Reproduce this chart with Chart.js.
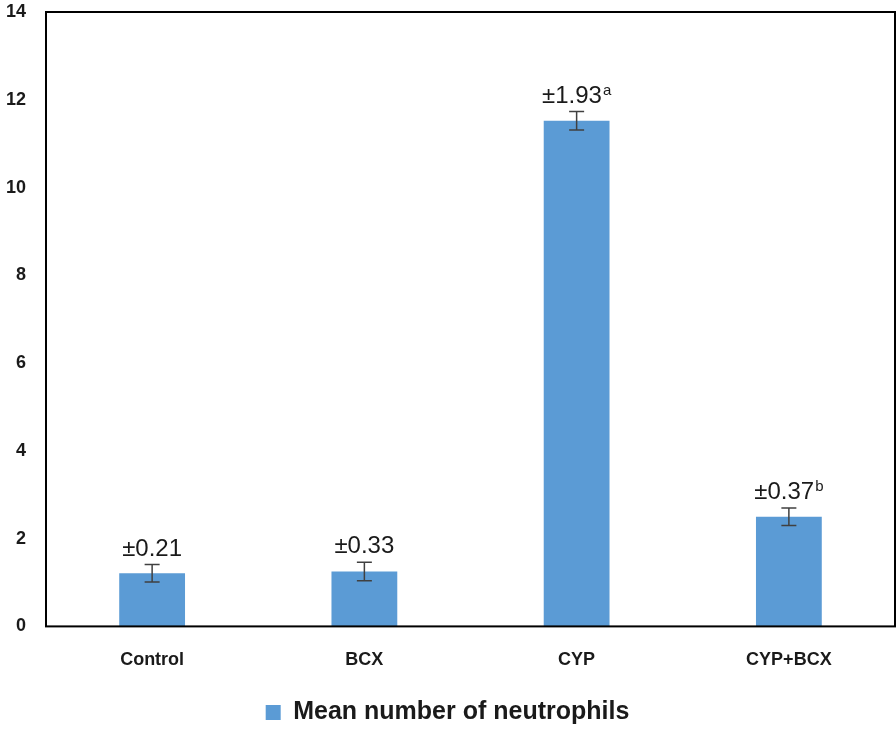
<!DOCTYPE html>
<html>
<head>
<meta charset="utf-8">
<script src="https://cdn.jsdelivr.net/npm/chart.js@4/dist/chart.umd.min.js"></script>
<style>
  html, body { margin: 0; padding: 0; background: #fff; }
  #wadah { width: 896px; height: 730px; }
</style>
</head>
<body>
<div id="wadah"><canvas id="grafikNeutrofil"></canvas></div>
<script>
// Data grafik
const kategori = ['Control', 'BCX', 'CYP', 'CYP+BCX'];
const rataRata = [1.21, 1.25, 11.52, 2.5];
const galatBatang = [0.2, 0.21, 0.21, 0.2];
const labelSd = ['±0.21', '±0.33', '±1.93', '±0.37'];
const labelSup = ['', '', 'a', 'b'];
const labelSumbuY = [0, 2, 4, 6, 8, 10, 12, 14];

const hurufUtama = '24px "Liberation Sans", Arial, sans-serif';
const hurufSup = '15px "Liberation Sans", Arial, sans-serif';

// Plugin: kotak bingkai area plot
const bingkai = {
  id: 'bingkai',
  afterDraw(chart) {
    const a = chart.chartArea, ctx = chart.ctx;
    ctx.save();
    ctx.strokeStyle = '#000';
    ctx.lineWidth = 2;
    ctx.strokeRect(a.left, a.top, a.right - a.left, a.bottom - a.top);
    ctx.restore();
  }
};

// Plugin: error bar dan label ±SD di atas batang
const galatDanLabel = {
  id: 'galatDanLabel',
  afterDatasetsDraw(chart) {
    const ctx = chart.ctx;
    const y = chart.scales.y;
    const meta = chart.getDatasetMeta(0);
    ctx.save();
    meta.data.forEach((bar, i) => {
      const atas = y.getPixelForValue(rataRata[i] + galatBatang[i]);
      const bawah = y.getPixelForValue(rataRata[i] - galatBatang[i]);
      ctx.strokeStyle = '#404040';
      ctx.lineWidth = 1.5;
      ctx.beginPath();
      ctx.moveTo(bar.x, atas); ctx.lineTo(bar.x, bawah);
      ctx.moveTo(bar.x - 7.5, atas); ctx.lineTo(bar.x + 7.5, atas);
      ctx.moveTo(bar.x - 7.5, bawah); ctx.lineTo(bar.x + 7.5, bawah);
      ctx.stroke();

      // label teks + superskrip
      ctx.fillStyle = '#1a1a1a';
      ctx.textBaseline = 'alphabetic';
      ctx.textAlign = 'left';
      ctx.font = hurufUtama;
      const lebarUtama = ctx.measureText(labelSd[i]).width;
      ctx.font = hurufSup;
      const lebarSup = labelSup[i] ? ctx.measureText(labelSup[i]).width + 1 : 0;
      const mulai = bar.x - (lebarUtama + lebarSup) / 2;
      const dasar = atas - 9;
      ctx.font = hurufUtama;
      ctx.fillText(labelSd[i], mulai, dasar);
      if (labelSup[i]) {
        ctx.font = hurufSup;
        ctx.fillText(labelSup[i], mulai + lebarUtama + 1, dasar - 8);
      }
    });
    ctx.restore();
  }
};

new Chart(document.getElementById('grafikNeutrofil'), {
  type: 'bar',
  data: {
    labels: kategori,
    datasets: [{
      label: 'Mean number of neutrophils',
      data: rataRata,
      backgroundColor: '#5B9BD5',
      borderWidth: 0,
      categoryPercentage: 1,
      barPercentage: 0.31
    }]
  },
  options: {
    responsive: true,
    maintainAspectRatio: false,
    animation: false,
    layout: { padding: { top: 12, right: 1, left: 0, bottom: -5 } },
    scales: {
      x: {
        afterFit: (ax) => { ax.height += 2; },
        grid: { display: false, drawTicks: false },
        border: { display: false },
        ticks: {
          color: '#1a1a1a',
          padding: 23,
          font: { family: '"Liberation Sans", Arial, sans-serif', size: 18, weight: 'bold' }
        }
      },
      y: {
        min: 0,
        max: 14,
        afterBuildTicks: (ax) => { ax.ticks = labelSumbuY.map(v => ({ value: v })); },
        afterFit: (ax) => { ax.width = 46; ax.paddingTop = 0; ax.paddingBottom = 0; },
        grid: { display: false, drawTicks: false },
        border: { display: false },
        ticks: {
          color: '#1a1a1a',
          padding: 20,
          font: { family: '"Liberation Sans", Arial, sans-serif', size: 18, weight: 'bold' }
        }
      }
    },
    plugins: {
      legend: {
        position: 'bottom',
        labels: {
          color: '#1a1a1a',
          boxWidth: 15,
          boxHeight: 15,
          padding: 4,
          font: { family: '"Liberation Sans", Arial, sans-serif', size: 25, weight: 'bold' }
        }
      },
      tooltip: { enabled: false }
    }
  },
  plugins: [bingkai, galatDanLabel]
});
</script>
</body>
</html>
